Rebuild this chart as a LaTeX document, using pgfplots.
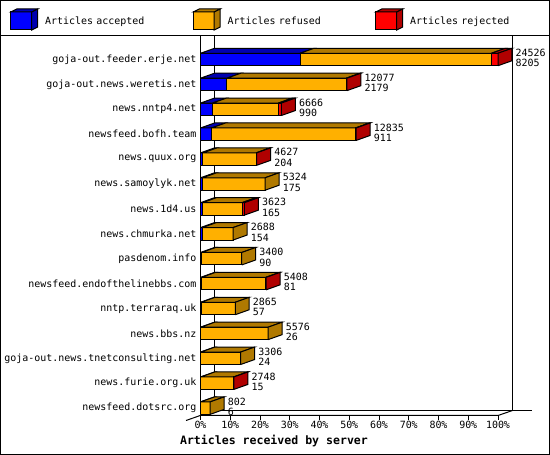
\documentclass[border=0pt]{standalone}
\usepackage{pgfplots}
\pgfplotsset{compat=1.18}
\usepackage{pgfplotstable}
\usepackage{fontspec}
\setmainfont{DejaVu Sans Mono}
\newcommand\lab{\fontsize{10}{10.5}\selectfont}
\newcommand\ttl{\fontsize{11.6}{12}\selectfont\bfseries}

\definecolor{accblue}{RGB}{0,0,255}
\definecolor{accbluedk}{RGB}{0,0,176}
\definecolor{refor}{RGB}{255,176,0}
\definecolor{refordk}{RGB}{176,121,0}
\definecolor{rejred}{RGB}{255,0,0}
\definecolor{rejreddk}{RGB}{176,0,0}

% accepted, rejected, total articles per server (refused = total - acc - rej)
\pgfplotstableread{
name acc rej total
goja-out.feeder.erje.net 8205 550 24526
goja-out.news.weretis.net 2179 60 12077
news.nntp4.net 990 250 6666
newsfeed.bofh.team 911 60 12835
news.quux.org 204 40 4627
news.samoylyk.net 175 0 5324
news.1d4.us 165 200 3623
news.chmurka.net 154 0 2688
pasdenom.info 90 0 3400
newsfeed.endofthelinebbs.com 81 30 5408
nntp.terraraq.uk 57 0 2865
news.bbs.nz 26 0 5576
goja-out.news.tnetconsulting.net 24 0 3306
news.furie.org.uk 15 20 2748
newsfeed.dotsrc.org 6 0 802
}\data

\pgfplotsset{face/.style={draw=black, line width=1bp, mark=none, forget plot}}

\begin{document}
\begin{tikzpicture}
\useasboundingbox (0,0) rectangle (550bp,455bp);
\begin{scope}[x=1bp, y=1bp, line width=1bp]
  \draw (0.5,0.5) rectangle (549.5,454.5);
  \draw (0,419) -- (550,419);
  \draw (200.5,419) -- (200.5,39.5);
  \draw (214.5,419) -- (214.5,44.5) -- (532,44.5);
  \draw (512.5,419) -- (512.5,44.5);
  \draw (186,34.5) -- (214.5,44.5);
  \draw (200.5,39.5) -- (498,39.5) -- (512.5,44.5);
\end{scope}
\begin{axis}[
    at={(200.5bp,39.5bp)}, anchor=south west,
    scale only axis, width=297.5bp, height=379.5bp,
    xmin=0, xmax=100, ymin=0.703, ymax=15.944,
    clip=false,
    axis line style={draw=none},
    tick align=outside,
    major tick length=4bp,
    tick style={black, line width=1bp},
    xtick={0,10,...,100},
    xtick pos=left,
    xticklabel={\pgfmathprintnumber{\tick}\%},
    /pgf/number format/assume math mode=true,
    ticklabel style={font=\lab},
    xticklabel style={inner sep=0pt, yshift=-1bp},
    ytick={1,...,15},
    ytick style={draw=none},
    yticklabels={newsfeed.dotsrc.org, news.furie.org.uk,
      goja-out.news.tnetconsulting.net, news.bbs.nz, nntp.terraraq.uk,
      newsfeed.endofthelinebbs.com, pasdenom.info, news.chmurka.net,
      news.1d4.us, news.samoylyk.net, news.quux.org, newsfeed.bofh.team,
      news.nntp4.net, goja-out.news.weretis.net, goja-out.feeder.erje.net},
    yticklabel style={inner sep=0pt, xshift=0bp},
    xlabel={Articles received by server},
    xlabel style={font=\ttl, at={(axis description cs:0.247,-0.0672)}, anchor=center},
    legend columns=3,
    legend cell align=left,
    legend style={at={(axis description cs:-0.6403,1.0435)}, anchor=west,
      draw=none, fill=none, inner sep=0pt, font=\lab,
      cells={inner sep=0pt, text width=145.5bp, align=left},
      /tikz/every odd column/.style={column sep=5bp},
      /tikz/every even column/.style={column sep=0bp}},
]

\addlegendimage{legend image code/.code={
  \draw[line width=1bp, fill=accblue] (0bp,-9bp) rectangle (21bp,9bp);
  \draw[line width=1bp, fill=accbluedk] (0bp,9bp) -- (6bp,12bp) -- (27bp,12bp) -- (21bp,9bp) -- cycle;
  \draw[line width=1bp, fill=accbluedk] (21bp,9bp) -- (27bp,12bp) -- (27bp,-6bp) -- (21bp,-9bp) -- cycle;}}
\addlegendentry{Articles accepted}
\addlegendimage{legend image code/.code={
  \draw[line width=1bp, fill=refor] (0bp,-9bp) rectangle (21bp,9bp);
  \draw[line width=1bp, fill=refordk] (0bp,9bp) -- (6bp,12bp) -- (27bp,12bp) -- (21bp,9bp) -- cycle;
  \draw[line width=1bp, fill=refordk] (21bp,9bp) -- (27bp,12bp) -- (27bp,-6bp) -- (21bp,-9bp) -- cycle;}}
\addlegendentry{Articles refused}
\addlegendimage{legend image code/.code={
  \draw[line width=1bp, fill=rejred] (0bp,-9bp) rectangle (21bp,9bp);
  \draw[line width=1bp, fill=rejreddk] (0bp,9bp) -- (6bp,12bp) -- (27bp,12bp) -- (21bp,9bp) -- cycle;
  \draw[line width=1bp, fill=rejreddk] (21bp,9bp) -- (27bp,12bp) -- (27bp,-6bp) -- (21bp,-9bp) -- cycle;}}
\addlegendentry{Articles rejected}

% 3d bars: front, top and side faces, depth 4.7 % in x and 0.2 rows in y
\pgfplotsforeachungrouped \i in {0,...,14}{%
  \pgfplotstablegetelem{\i}{acc}\of\data\edef\A{\pgfplotsretval}%
  \pgfplotstablegetelem{\i}{rej}\of\data\edef\J{\pgfplotsretval}%
  \pgfplotstablegetelem{\i}{total}\of\data\edef\T{\pgfplotsretval}%
  \edef\xa{\fpeval{\A/245.26}}%
  \edef\xj{\fpeval{(\T-\J)/245.26}}%
  \edef\xt{\fpeval{\T/245.26}}%
  \edef\xad{\fpeval{\xa+4.7}}%
  \edef\xjd{\fpeval{\xj+4.7}}%
  \edef\xtd{\fpeval{\xt+4.7}}%
  \edef\yb{\fpeval{15-\i-0.25}}%
  \edef\yt{\fpeval{15-\i+0.25}}%
  \edef\yu{\fpeval{15-\i+0.45}}%
  \edef\yv{\fpeval{15-\i-0.05}}%
  \edef\tmp{%
    \noexpand\addplot[face, fill=accblue] coordinates {(0,\yb)(\xa,\yb)(\xa,\yt)(0,\yt)(0,\yb)};
    \noexpand\addplot[face, fill=accbluedk] coordinates {(0,\yt)(\xa,\yt)(\xad,\yu)(4.7,\yu)(0,\yt)};
    \noexpand\addplot[face, fill=refor] coordinates {(\xa,\yb)(\xj,\yb)(\xj,\yt)(\xa,\yt)(\xa,\yb)};
    \noexpand\addplot[face, fill=refordk] coordinates {(\xa,\yt)(\xj,\yt)(\xjd,\yu)(\xad,\yu)(\xa,\yt)};
  }\tmp
  \ifnum\J>0
    \edef\tmp{%
      \noexpand\addplot[face, fill=rejred] coordinates {(\xj,\yb)(\xt,\yb)(\xt,\yt)(\xj,\yt)(\xj,\yb)};
      \noexpand\addplot[face, fill=rejreddk] coordinates {(\xj,\yt)(\xt,\yt)(\xtd,\yu)(\xjd,\yu)(\xj,\yt)};
      \noexpand\addplot[face, fill=rejreddk] coordinates {(\xt,\yb)(\xt,\yt)(\xtd,\yu)(\xtd,\yv)(\xt,\yb)};
    }\tmp
  \else
    \edef\tmp{%
      \noexpand\addplot[face, fill=refordk] coordinates {(\xt,\yb)(\xt,\yt)(\xtd,\yu)(\xtd,\yv)(\xt,\yb)};
    }\tmp
  \fi
}

% value labels: total and accepted
\addplot[draw=none, mark=none, forget plot,
    point meta=explicit symbolic,
    visualization depends on={\thisrow{acc}\as\acc},
    nodes near coords={\pgfplotspointmeta\\\pgfmathprintnumber[fixed, precision=0, 1000 sep={}]{\acc}},
    every node near coord/.style={anchor=west, align=left, inner sep=0pt,
      font=\lab, xshift=17.5bp, yshift=1.5bp}]
  table[x expr=\thisrow{total}/245.26, y expr=15-\coordindex, meta=total] {\data};

\end{axis}
\end{tikzpicture}
\end{document}
